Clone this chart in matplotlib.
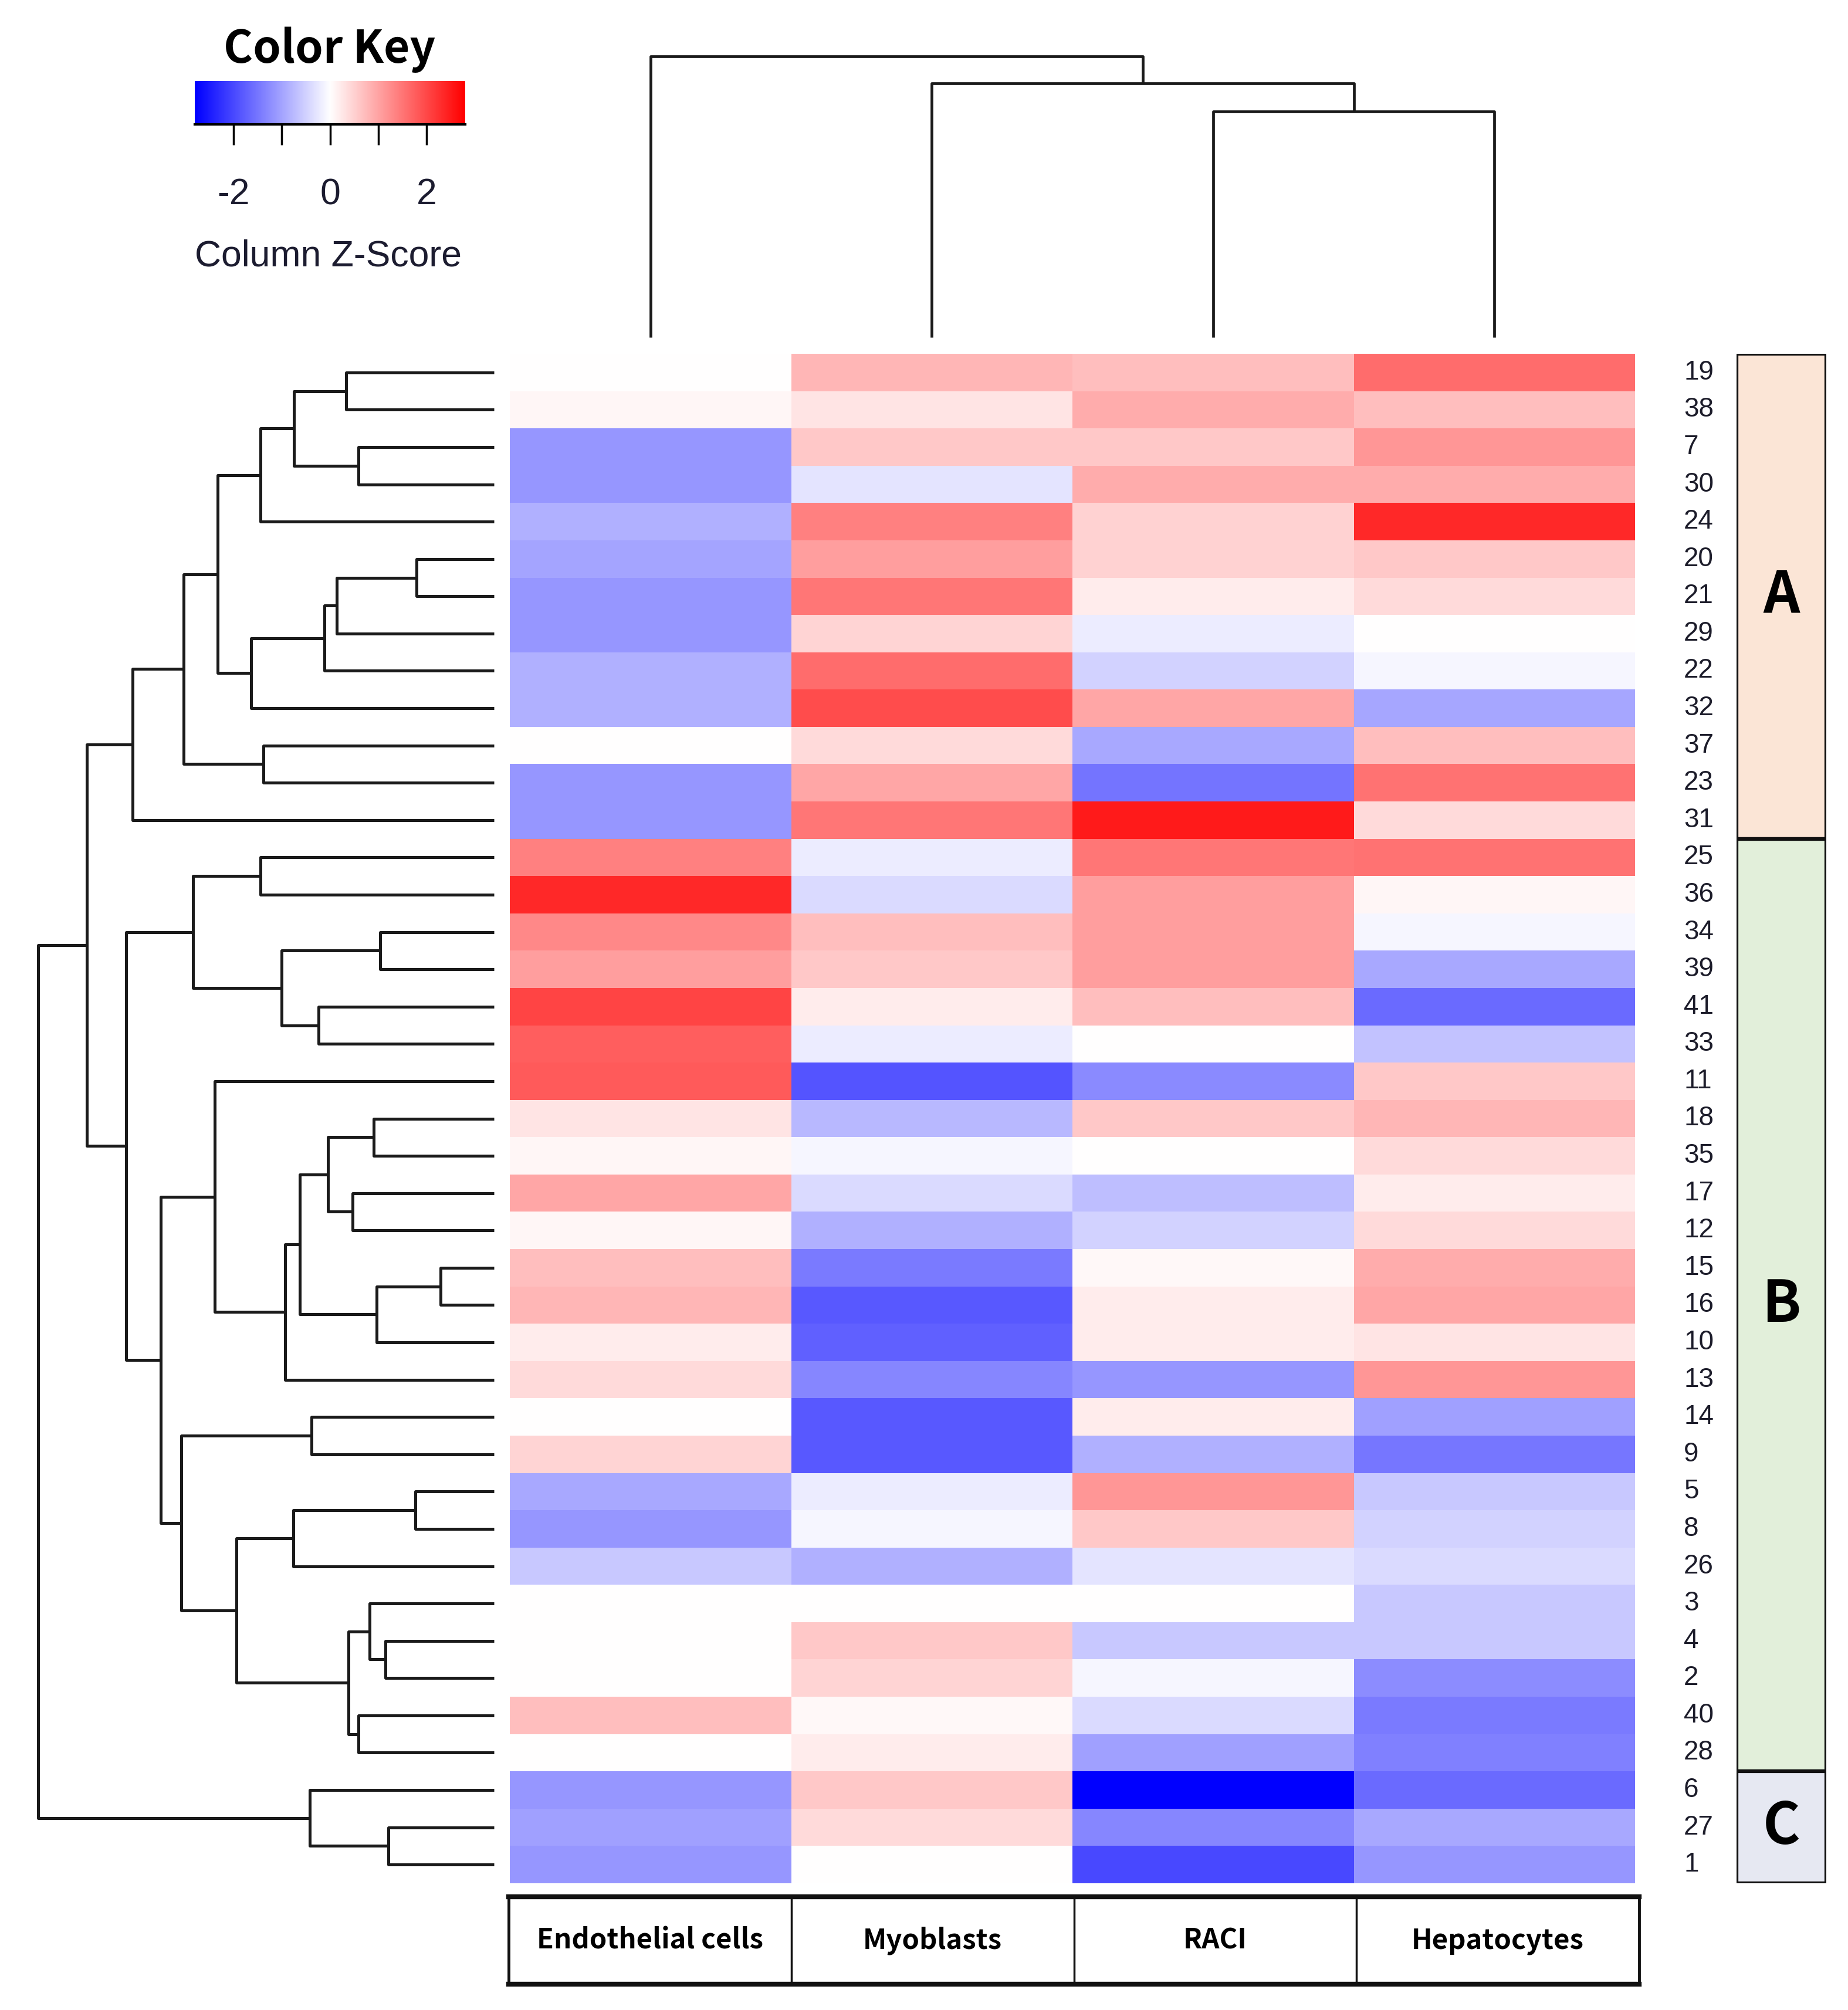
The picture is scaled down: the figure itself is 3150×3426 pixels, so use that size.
import numpy as np
import matplotlib.pyplot as plt
from matplotlib.colors import LinearSegmentedColormap
from matplotlib.patches import Rectangle

# rows in dendrogram order (top to bottom)
row_labels = ['19', '38', '7', '30', '24', '20', '21', '29', '22', '32', '37', '23', '31',
              '25', '36', '34', '39', '41', '33', '11', '18', '35', '17', '12', '15', '16',
              '10', '13', '14', '9', '5', '8', '26', '3', '4', '2', '40', '28', '6', '27', '1']
col_labels = ['Endothelial cells', 'Myoblasts', 'RACI', 'Hepatocytes']

# column z-scores
endo = [0.0, 0.1, -1.15, -1.15, -0.87, -1.0, -1.15, -1.15, -0.87, -0.87, 0.0, -1.15, -1.15,
        1.4, 2.35, 1.3, 1.05, 2.05, 1.75, 1.8,
        0.3, 0.1, 0.97, 0.1, 0.7, 0.8, 0.2, 0.4, 0.0, 0.48,
        -0.95, -1.15, -0.6, 0.0, 0.0, 0.0, 0.7, 0.0, -1.15, -1.03, -1.15]
myo = [0.8, 0.3, 0.6, -0.3, 1.4, 1.05, 1.5, 0.48, 1.6, 1.95, 0.4, 0.97, 1.5,
       -0.2, -0.4, 0.7, 0.6, 0.2, -0.2, -1.87,
       -0.78, -0.1, -0.4, -0.87, -1.45, -1.83, -1.73, -1.33, -1.83, -1.83,
       -0.2, -0.1, -0.87, 0.0, 0.6, 0.48, 0.08, 0.2, 0.6, 0.4, 0.0]
raci = [0.7, 0.9, 0.6, 0.9, 0.5, 0.5, 0.2, -0.2, -0.5, 0.97, -0.95, -1.53, 2.5,
        1.5, 1.05, 1.05, 1.05, 0.7, 0.0, -1.28,
        0.6, 0.0, -0.7, -0.5, 0.08, 0.2, 0.2, -1.15, 0.2, -0.87,
        1.15, 0.6, -0.3, 0.0, -0.6, -0.1, -0.4, -1.03, -2.8, -1.33, -2.0]
hep = [1.6, 0.7, 1.15, 0.9, 2.35, 0.6, 0.4, 0.02, -0.1, -0.97, 0.7, 1.55, 0.4,
       1.55, 0.1, -0.1, -0.95, -1.63, -0.67, 0.6,
       0.8, 0.4, 0.2, 0.4, 0.9, 0.97, 0.3, 1.15, -1.05, -1.5,
       -0.6, -0.5, -0.4, -0.6, -0.6, -1.25, -1.45, -1.4, -1.63, -0.95, -1.15]

groups = ['A', 'B', 'C']
group_sizes = [13, 25, 3]
group_colors = ['#FBE5D6', '#E2EFDA', '#E6E8F2']

# row dendrogram: [left, right, height], leaves are row positions
n01 = [0, 1, 450]
n23 = [2, 3, 412]
n0_4 = [[n01, n23, 607], 4, 710]
n5_9 = [[[[5, 6, 235], 7, 478], 8, 515], 9, 737]
clusterA = [[[n0_4, n5_9, 840], [10, 11, 700], 943], 12, 1098]
clusterB1 = [[13, 14, 710], [[15, 16, 345], [17, 18, 532], 645], 915]
n20_26 = [[[20, 21, 365], [22, 23, 430], 505], [[24, 25, 162], 26, 357], 590]
clusterB2a = [19, [n20_26, 27, 635], 848]
n30_37 = [[[30, 31, 238], 32, 610], [[33, [34, 35, 330], 378], [36, 37, 412], 442], 783]
clusterB2b = [[28, 29, 555], n30_37, 950]
clusterC = [38, [39, 40, 320], 560]
row_tree = [[clusterA, [clusterB1, [clusterB2a, clusterB2b, 1013], 1117], 1237], clusterC, 1385]

# column dendrogram
col_tree = [0, [1, [2, 3, 385], 433], 479]

W, H = 3150, 3426
fig = plt.figure(figsize=(W / 100, H / 100), dpi=100)


def ax_px(x0, y0, x1, y1):
    return fig.add_axes([x0 / W, 1 - y1 / H, (x1 - x0) / W, (y1 - y0) / H])


def draw_tree(ax, node, vertical):
    if isinstance(node, int):
        return node + 0.5, 0.0
    a, b, h = node
    pa, ha = draw_tree(ax, a, vertical)
    pb, hb = draw_tree(ax, b, vertical)
    hs = [ha, h, h, hb]
    ps = [pa, pa, pb, pb]
    if vertical:
        ax.plot(ps, hs, color='#1a1a1a', lw=3.4, solid_capstyle='butt', clip_on=False)
    else:
        ax.plot(hs, ps, color='#1a1a1a', lw=3.6, solid_capstyle='butt', clip_on=False)
    return (pa + pb) / 2, h


cmap = LinearSegmentedColormap.from_list('bluered', ['#0000ff', '#ffffff', '#ff0000'])
vmin, vmax = -2.8, 2.8

data = np.array([endo, myo, raci, hep]).T
n_rows = len(row_labels)

# heatmap
ax = ax_px(869, 603, 2787, 3210)
ax.pcolormesh(np.arange(5), np.arange(n_rows + 1), data, cmap=cmap, vmin=vmin, vmax=vmax)
ax.set_xlim(0, 4)
ax.set_ylim(n_rows, 0)
ax.axis('off')

# row labels
for i, lab in enumerate(row_labels):
    ax.text(4.0 + 83 / 479, i + 0.5, lab, ha='left', va='center', fontsize=33,
            family='Liberation Sans', color='#1c1c2a')

# row dendrogram
axr = ax_px(20, 603, 842, 3210)
draw_tree(axr, row_tree, vertical=False)
axr.set_xlim(1465, 0)
axr.set_ylim(n_rows, 0)
axr.axis('off')

# column dendrogram
axc = ax_px(869, 80, 2787, 575)
draw_tree(axc, col_tree, vertical=True)
axc.set_xlim(0, 4)
axc.set_ylim(0, 495)
axc.axis('off')

# group bar
axg = ax_px(2960, 603, 3113, 3210)
start = 0
for g, size, c in zip(groups, group_sizes, group_colors):
    axg.add_patch(Rectangle((0, start), 1, size, facecolor=c, edgecolor='#111111', lw=4.5))
    axg.text(0.5, start + size / 2, g, ha='center', va='center', fontsize=70,
             fontweight='bold', family=['Noto Sans CJK KR', 'DejaVu Sans'])
    start += size
axg.set_xlim(0, 1)
axg.set_ylim(n_rows, 0)
axg.axis('off')

# column label boxes
axl = ax_px(867, 3233, 2794, 3382)
axl.set_xlim(0, 4)
axl.set_ylim(0, 1)
axl.axis('off')
axl.plot([0, 4], [1, 1], color='#111111', lw=6, clip_on=False)
axl.plot([0, 4], [0, 0], color='#111111', lw=6, clip_on=False)
for k in range(5):
    axl.plot([k, k], [0, 1], color='#111111', lw=2.5 if 0 < k < 4 else 3.5, clip_on=False)
for k, lab in enumerate(col_labels):
    axl.text(k + 0.5, 0.5, lab, ha='center', va='center', fontsize=34, fontweight='bold',
             family=['Noto Sans CJK KR', 'DejaVu Sans'])

# color key
axk = ax_px(332, 138, 793, 212)
grad = np.linspace(vmin, vmax, 256)[None, :]
axk.imshow(grad, aspect='auto', cmap=cmap, vmin=vmin, vmax=vmax, extent=(vmin, vmax, 0, 1))
axk.set_yticks([])
for s in ['top', 'left', 'right']:
    axk.spines[s].set_visible(False)
axk.spines['bottom'].set_linewidth(3)
axk.set_xticks([-2, -1, 0, 1, 2])
axk.set_xticklabels(['-2', '', '0', '', '2'])
axk.tick_params(axis='x', length=25, width=2.5, pad=40, labelsize=45, labelcolor='#1c1c30')
for t in axk.get_xticklabels():
    t.set_family('Liberation Sans')

fig.text(562 / W, 1 - 85 / H, 'Color Key', ha='center', va='center', fontsize=55,
         fontweight='bold', family=['Noto Sans CJK KR', 'DejaVu Sans'])
fig.text(559 / W, 1 - 437 / H, 'Column Z-Score', ha='center', va='center', fontsize=45,
         family='Liberation Sans', color='#1c1c30')

fig.savefig('out.png', dpi=100, facecolor='white')
